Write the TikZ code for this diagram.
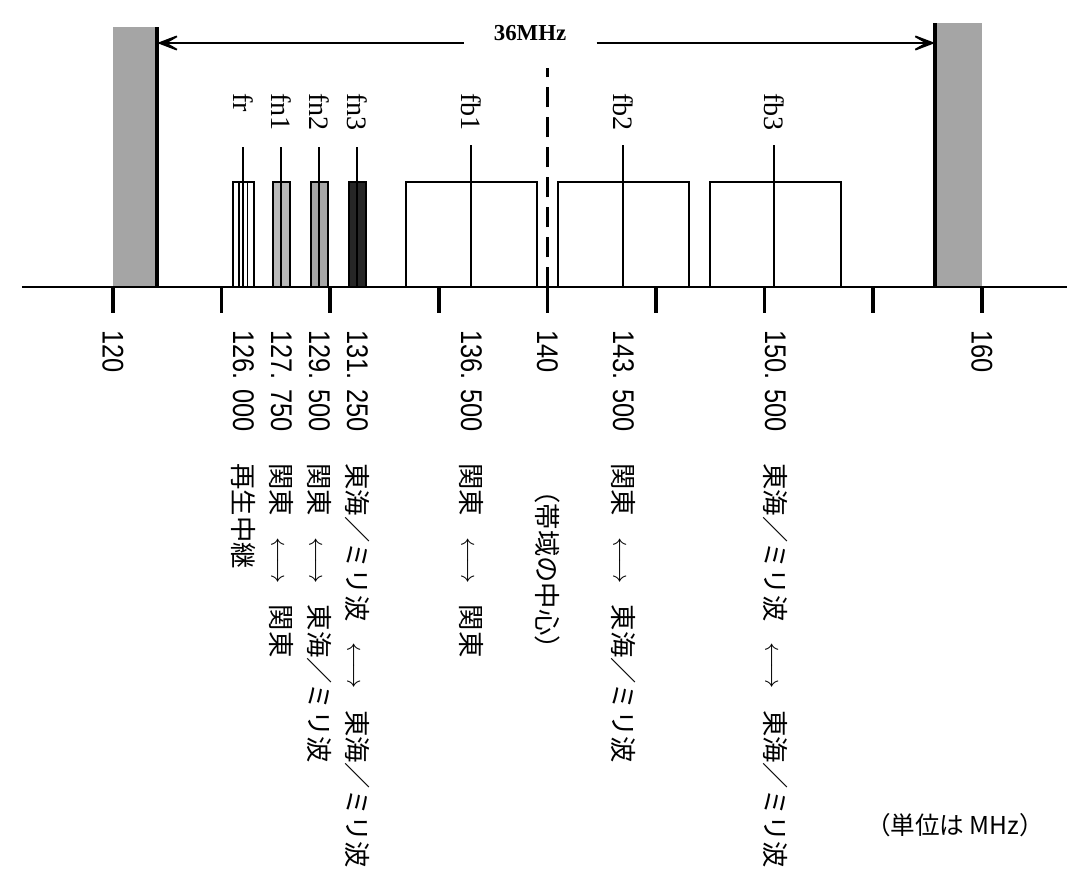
\documentclass[tikz,border=0pt]{standalone}
\usepackage{fontspec}
\setmainfont{Liberation Serif}
\newfontfamily\numfont[FakeStretch=0.85]{Liberation Sans}
\newfontfamily\jpfont{Noto Sans CJK JP}
\usepackage{tikz}
\usetikzlibrary{arrows.meta,positioning,calc}
\definecolor{wallgray}{RGB}{165,165,165}
\newcommand{\both}{\hspace{0.8em}$\longleftrightarrow$\hspace{0.8em}}
\tikzset{
  axisline/.style={line width=1.3pt},
  axtick/.style={line width=2pt},
  wall/.style={fill=wallgray},
  walledge/.style={line width=2.4pt},
  chanbox/.style={draw,line width=1.1pt},
  narrowbar/.style={draw,line width=1.1pt},
  stem/.style={line width=1.1pt},
  widtharrow/.style={-{Stealth[length=6mm,width=4.6mm,inset=4mm]},line width=1pt},
  centreline/.style={line width=1.3pt,dash pattern=on 0.4cm off 0.2cm},
  chanlabel/.style={rotate=-90,anchor=west,inner sep=0pt,font=\fontsize{16pt}{18pt}\selectfont},
  freqlabel/.style={rotate=-90,anchor=west,inner sep=0pt,font=\numfont\fontsize{17pt}{19pt}\selectfont},
  routelabel/.style={rotate=-90,anchor=west,inner sep=0pt,font=\jpfont\fontsize{15pt}{17pt}\selectfont}
}

\begin{document}
\begin{tikzpicture}[x=0.4344cm,y=1cm]
  \useasboundingbox (-5.203,-11.92) rectangle (44.29,5.74);

  % band edges
  \fill[wall] (0,0) rectangle (2.03,5.2);
  \draw[walledge] (2.03,0) -- (2.03,5.2);
  \fill[wall] (37.85,0) rectangle (40,5.28);
  \draw[walledge] (37.85,0) -- (37.85,5.28);
  \coordinate (lwall) at (2.03,4.88);
  \coordinate (rwall) at (37.85,4.88);

  % 36MHz span
  \node[font=\bfseries\fontsize{13pt}{15pt}\selectfont,inner xsep=0.6cm] (bw) at (19.2,5.08) {36MHz};
  \draw[widtharrow] (lwall -| bw.west) -- (lwall);
  \draw[widtharrow] (rwall -| bw.east) -- (rwall);

  % band centre
  \draw[centreline] (20,0) -- (20,4.38);

  % narrow carriers
  \draw[narrowbar,fill=white] (5.525,0) rectangle (6.475,2.1);
  \draw[stem] (6,0) -- (6,2.8);
  \draw[line width=0.6pt] (5.8,0) -- (5.8,2.1);
  \draw[line width=0.6pt] (6.2,0) -- (6.2,2.1);
  \draw[narrowbar,fill=gray!55] (7.37,0) rectangle (8.13,2.1);
  \draw[stem] (7.75,0) -- (7.75,2.8);
  \draw[narrowbar,fill=gray!70] (9.12,0) rectangle (9.88,2.1);
  \draw[stem] (9.5,0) -- (9.5,2.8);
  \draw[narrowbar,fill=black!85] (10.87,0) rectangle (11.63,2.1);
  \draw[stem] (11.25,0) -- (11.25,2.8);

  % wide carriers
  \draw[chanbox] (13.5,0) rectangle (19.5,2.1);
  \draw[stem] (16.5,0) -- (16.5,2.84);
  \draw[chanbox] (20.5,0) rectangle (26.5,2.1);
  \draw[stem] (23.5,0) -- (23.5,2.84);
  \draw[chanbox] (27.5,0) rectangle (33.5,2.1);
  \draw[stem] (30.45,0) -- (30.45,2.84);

  % axis and ticks
  \draw[axisline] (-4.2,0) -- (43.9,0);
  \draw[axtick] (0,0) -- (0,-0.52);
  \draw[axtick] (5,0) -- (5,-0.52);
  \draw[axtick] (10,0) -- (10,-0.52);
  \draw[axtick] (15,0) -- (15,-0.52);
  \draw[axtick] (20,0) -- (20,-0.52);
  \draw[axtick] (25,0) -- (25,-0.52);
  \draw[axtick] (30,0) -- (30,-0.52);
  \draw[axtick] (35,0) -- (35,-0.52);
  \draw[axtick] (40,0) -- (40,-0.52);

  % carrier names
  \node[chanlabel] (fr) at (6,3.88) {fr};
  \node[chanlabel] (fn1) at (7.75,3.88) {fn1};
  \node[chanlabel] (fn2) at (9.5,3.88) {fn2};
  \node[chanlabel] (fn3) at (11.25,3.88) {fn3};
  \node[chanlabel] (fb1) at (16.5,3.88) {fb1};
  \node[chanlabel] (fb2) at (23.5,3.88) {fb2};
  \node[chanlabel] (fb3) at (30.45,3.88) {fb3};

  % frequencies
  \node[freqlabel] (f120) at (0,-0.86) {120};
  \node[freqlabel] (f126) at (6,-0.86) {126. 000};
  \node[freqlabel] (f127) at (7.75,-0.86) {127. 750};
  \node[freqlabel] (f129) at (9.5,-0.86) {129. 500};
  \node[freqlabel] (f131) at (11.25,-0.86) {131. 250};
  \node[freqlabel] (f136) at (16.5,-0.86) {136. 500};
  \node[freqlabel] (f140) at (20,-0.86) {140};
  \node[freqlabel] (f143) at (23.5,-0.86) {143. 500};
  \node[freqlabel] (f150) at (30.5,-0.86) {150. 500};
  \node[freqlabel] (f160) at (40,-0.86) {160};

  % routes
  \node[routelabel] (rfr) at (6,-3.52) {再生中継};
  \node[routelabel] (rfn1) at (7.75,-3.52) {関東\both 関東};
  \node[routelabel] (rfn2) at (9.5,-3.52) {関東\both 東海／ミリ波};
  \node[routelabel] (rfn3) at (11.25,-3.52) {東海／ミリ波\both 東海／ミリ波};
  \node[routelabel] (rfb1) at (16.5,-3.52) {関東\both 関東};
  \node[routelabel] (rmid) at (20,-3.8) {（帯域の中心）};
  \node[routelabel] (rfb2) at (23.5,-3.52) {関東\both 東海／ミリ波};
  \node[routelabel] (rfb3) at (30.5,-3.52) {東海／ミリ波\both 東海／ミリ波};

  \node[font=\jpfont\fontsize{14pt}{16pt}\selectfont] (unit) at (38.77,-10.76) {（単位は MHz）};
\end{tikzpicture}
\end{document}
